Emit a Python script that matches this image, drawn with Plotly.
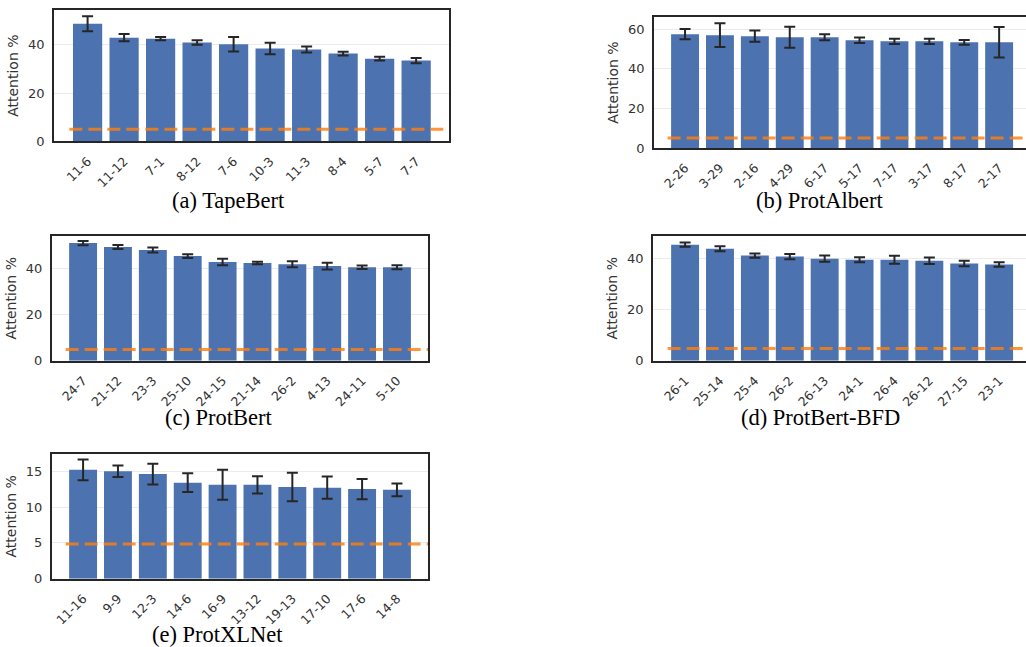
import plotly.graph_objects as go

# ---------------- data ----------------
titles = ["(a) TapeBert", "(b) ProtAlbert", "(c) ProtBert", "(d) ProtBert-BFD", "(e) ProtXLNet"]

tape_heads = ["11-6", "11-12", "7-1", "8-12", "7-6", "10-3", "11-3", "8-4", "5-7", "7-7"]
tape_vals = [48.8, 43.0, 42.6, 41.0, 40.3, 38.5, 38.1, 36.4, 34.3, 33.5]
tape_err = [3.1, 1.5, 0.7, 0.9, 3.0, 2.4, 1.2, 0.75, 0.8, 1.1]
tape_base = 5.0

albert_heads = ["2-26", "3-29", "2-16", "4-29", "6-17", "5-17", "7-17", "3-17", "8-17", "2-17"]
albert_vals = [57.5, 57.0, 56.5, 56.0, 56.0, 54.5, 53.9, 53.9, 53.4, 53.4]
albert_err = [2.6, 6.0, 2.85, 5.3, 1.5, 1.4, 1.35, 1.35, 1.2, 7.7]
albert_base = 5.0

bert_heads = ["24-7", "21-12", "23-3", "25-10", "24-15", "21-14", "26-2", "4-13", "24-11", "5-10"]
bert_vals = [50.8, 49.1, 47.8, 45.2, 42.6, 42.2, 41.7, 40.9, 40.4, 40.4]
bert_err = [0.95, 0.85, 1.1, 0.8, 1.4, 0.55, 1.3, 1.45, 0.75, 0.85]
bert_base = 4.8

bfd_heads = ["26-1", "25-14", "25-4", "26-2", "26-13", "24-1", "26-4", "26-12", "27-15", "23-1"]
bfd_vals = [45.5, 43.9, 41.2, 40.8, 40.0, 39.6, 39.6, 39.2, 38.1, 37.7]
bfd_err = [0.85, 0.95, 0.85, 1.0, 1.2, 1.0, 1.55, 1.3, 1.1, 0.85]
bfd_base = 4.8

xl_heads = ["11-16", "9-9", "12-3", "14-6", "16-9", "13-12", "19-13", "17-10", "17-6", "14-8"]
xl_vals = [15.2, 15.0, 14.6, 13.4, 13.1, 13.1, 12.8, 12.7, 12.5, 12.4]
xl_err = [1.45, 0.8, 1.45, 1.3, 2.1, 1.2, 2.0, 1.55, 1.4, 0.9]
xl_base = 4.85

# ---------------- layout geometry ----------------
W, H = 1026, 647
panels = [
    dict(heads=tape_heads, vals=tape_vals, err=tape_err, base=tape_base,
         px=(54, 449), py=(10, 141.3), xr=(-0.92, 9.9), yr=(0, 54.5), dt=20, full=True,
         title_xy=(228, 200)),
    dict(heads=albert_heads, vals=albert_vals, err=albert_err, base=albert_base,
         px=(654, 1026), py=(17, 148), xr=(-0.89, 9.77), yr=(0, 66.2), dt=20, full=False,
         title_xy=(820, 200)),
    dict(heads=bert_heads, vals=bert_vals, err=bert_err, base=bert_base,
         px=(51.7, 428), py=(235.7, 360.7), xr=(-0.9, 9.89), yr=(0, 54), dt=20, full=True,
         title_xy=(219, 418)),
    dict(heads=bfd_heads, vals=bfd_vals, err=bfd_err, base=bfd_base,
         px=(653, 1026), py=(235.7, 360.7), xr=(-0.92, 9.77), yr=(0, 49), dt=20, full=False,
         title_xy=(820, 418)),
    dict(heads=xl_heads, vals=xl_vals, err=xl_err, base=xl_base,
         px=(51.7, 428), py=(454, 578.7), xr=(-0.9, 9.89), yr=(0, 17.4), dt=5, full=True,
         title_xy=(217.5, 634)),
]

BLUE = "#4c72b0"
ORANGE = "rgba(255,127,14,0.82)"
FRAME = "#262626"
TICKC = "#333333"
GRID = "#ebebeb"
SANS = "DejaVu Sans"

fig = go.Figure()
layout = dict(width=W, height=H, margin=dict(l=0, r=0, t=0, b=0, autoexpand=False),
              paper_bgcolor="white", plot_bgcolor="white", showlegend=False,
              annotations=[], shapes=[])

for i, p in enumerate(panels):
    n = "" if i == 0 else str(i + 1)
    xa, ya = "x" + n, "y" + n
    fig.add_trace(go.Bar(
        x=p["heads"], y=p["vals"], xaxis=xa, yaxis=ya, width=0.8,
        marker=dict(color=BLUE, line=dict(width=0)),
        error_y=dict(type="data", array=p["err"], visible=True,
                     color=FRAME, thickness=2, width=5.5),
    ))
    layout["xaxis" + n] = dict(
        domain=[p["px"][0] / W, p["px"][1] / W], anchor=ya, type="category",
        range=list(p["xr"]), showgrid=False, zeroline=False, automargin=False,
        showline=True, linecolor=FRAME, linewidth=1.6, mirror=True,
        ticks="", tickangle=-45, ticklabelstandoff=6,
        tickfont=dict(family=SANS, size=12.5, color=TICKC),
        fixedrange=True,
    )
    layout["yaxis" + n] = dict(
        domain=[1 - p["py"][1] / H, 1 - p["py"][0] / H], anchor=xa,
        range=list(p["yr"]), dtick=p["dt"], tick0=0, automargin=False,
        showgrid=True, gridcolor=GRID, gridwidth=1.2, zeroline=False,
        showline=True, linecolor=FRAME, linewidth=1.6, mirror=p["full"],
        ticks="", ticklabelstandoff=5,
        tickfont=dict(family=SANS, size=13, color=TICKC),
        title=dict(text="Attention %", standoff=6,
                   font=dict(family=SANS, size=14, color=TICKC)),
        fixedrange=True,
    )
    layout["shapes"].append(dict(
        type="line", xref=xa, yref=ya, x0=-0.5, x1=p["xr"][1],
        y0=p["base"], y1=p["base"], layer="above",
        line=dict(color=ORANGE, width=3, dash="13px,6px"),
    ))
    layout["annotations"].append(dict(
        text=titles[i], xref="paper", yref="paper",
        x=p["title_xy"][0] / W, y=1 - p["title_xy"][1] / H,
        xanchor="center", yanchor="middle", showarrow=False,
        font=dict(family="Liberation Serif", size=22.5, color="black"),
    ))

fig.update_layout(**layout)
fig.write_html("out.html", config={"displayModeBar": False},
               post_script="document.body.style.margin='0px';document.body.style.overflow='hidden';")
